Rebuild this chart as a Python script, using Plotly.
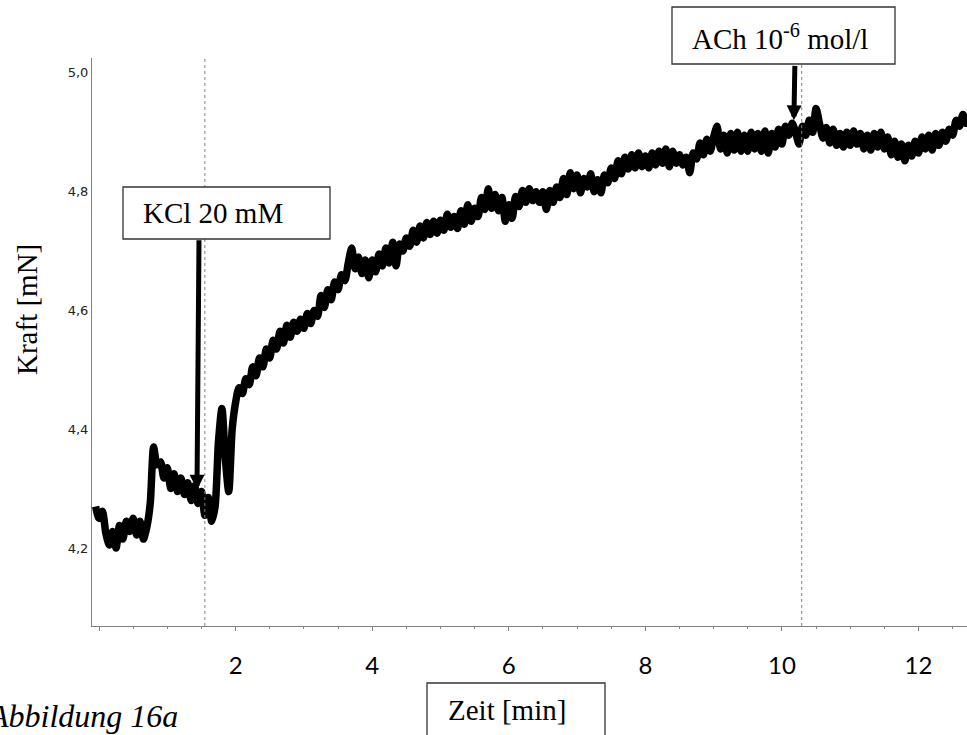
import plotly.graph_objects as go

# ---------------- data ----------------
# force trace sampled every 0.05 min, starting at t = -0.05 min
force_mN = [
    4.270, 4.250, 4.262, 4.225, 4.205, 4.228, 4.200, 4.238, 4.215, 4.245,
    4.228, 4.250, 4.222, 4.245, 4.215, 4.235, 4.275, 4.370, 4.340, 4.345,
    4.318, 4.335, 4.300, 4.325, 4.295, 4.318, 4.290, 4.310, 4.280, 4.305,
    4.275, 4.295, 4.255, 4.285, 4.245, 4.270, 4.380, 4.435, 4.350, 4.295,
    4.400, 4.445, 4.470, 4.460, 4.485, 4.475, 4.505, 4.490, 4.520, 4.505,
    4.535, 4.520, 4.550, 4.535, 4.565, 4.545, 4.575, 4.555, 4.580, 4.565,
    4.585, 4.570, 4.595, 4.578, 4.600, 4.590, 4.625, 4.605, 4.635, 4.618,
    4.648, 4.635, 4.660, 4.650, 4.680, 4.705, 4.670, 4.690, 4.662, 4.685,
    4.655, 4.685, 4.665, 4.695, 4.675, 4.705, 4.680, 4.715, 4.675, 4.712,
    4.700, 4.722, 4.708, 4.735, 4.715, 4.742, 4.722, 4.748, 4.728, 4.750,
    4.730, 4.752, 4.735, 4.762, 4.740, 4.758, 4.738, 4.768, 4.745, 4.778,
    4.750, 4.772, 4.758, 4.790, 4.770, 4.805, 4.772, 4.795, 4.768, 4.790,
    4.750, 4.778, 4.755, 4.792, 4.775, 4.802, 4.782, 4.805, 4.785, 4.800,
    4.782, 4.800, 4.770, 4.802, 4.782, 4.808, 4.790, 4.822, 4.795, 4.832,
    4.805, 4.828, 4.798, 4.822, 4.808, 4.830, 4.800, 4.820, 4.798, 4.828,
    4.815, 4.840, 4.822, 4.852, 4.830, 4.858, 4.838, 4.862, 4.840, 4.865,
    4.842, 4.860, 4.840, 4.865, 4.845, 4.868, 4.848, 4.872, 4.842, 4.868,
    4.848, 4.862, 4.845, 4.858, 4.832, 4.865, 4.855, 4.882, 4.862, 4.888,
    4.868, 4.892, 4.910, 4.872, 4.895, 4.865, 4.898, 4.870, 4.900, 4.868,
    4.895, 4.868, 4.900, 4.872, 4.898, 4.868, 4.902, 4.865, 4.898, 4.875,
    4.905, 4.880, 4.910, 4.895, 4.915, 4.900, 4.880, 4.910, 4.895, 4.920,
    4.900, 4.940, 4.915, 4.890, 4.908, 4.882, 4.905, 4.878, 4.898, 4.875,
    4.900, 4.878, 4.902, 4.880, 4.898, 4.872, 4.895, 4.870, 4.898, 4.875,
    4.900, 4.872, 4.892, 4.862, 4.885, 4.858, 4.880, 4.852, 4.878, 4.860,
    4.885, 4.865, 4.892, 4.872, 4.895, 4.870, 4.898, 4.878, 4.900, 4.885,
    4.905, 4.895, 4.920, 4.910, 4.930, 4.915, 4.928,
]
t_start_min = -0.05
t_step_min = 0.05
time_min = [round(t_start_min + t_step_min * i, 2) for i in range(len(force_mN))]

x_tick_vals = [0, 2, 4, 6, 8, 10, 12]
x_tick_text = ["", "2", "4", "6", "8", "10", "12"]
y_tick_vals = [4.2, 4.4, 4.6, 4.8, 5.0]

event_labels = ["KCl 20 mM", "ACh 10<sup>-6</sup> mol/l"]
event_line_times = [1.55, 10.29]
arrow_tip_times = [1.435, 10.175]
arrow_tip_values = [4.298, 4.920]

x_title = "Zeit [min]"
y_title = "Kraft [mN]"
caption = "Abbildung 16a"

# ---------------- layout helpers ----------------
W, H = 967, 735
L, R, T, B = 92, 0, 58, 109


def px(xp):
    return (xp - L) / (W - L - R)


def py(yp):
    return (H - B - yp) / (H - B - T)


SERIF = "Liberation Serif, Times New Roman, serif"

fig = go.Figure(
    go.Scatter(
        x=time_min, y=force_mN, mode="lines",
        line=dict(color="black", width=7.5, shape="spline", smoothing=0.7),
        hoverinfo="skip",
    )
)

fig.update_layout(
    width=W, height=H,
    margin=dict(l=L, r=R, t=T, b=B),
    paper_bgcolor="white", plot_bgcolor="white",
    showlegend=False,
    separators=",.",
)

fig.update_xaxes(
    range=[-0.1025, 12.71],
    showgrid=False, zeroline=False,
    showline=True, linecolor="#808080", linewidth=1,
    ticks="outside", ticklen=4, tickcolor="#808080", tickwidth=1,
    tickvals=x_tick_vals, ticktext=x_tick_text,
    tickfont=dict(family="Lato", size=24, color="black"),
    ticklabelstandoff=14,
    minor=dict(dtick=0.5, tick0=0, ticks="outside", ticklen=2,
               tickcolor="#808080", tickwidth=1),
)
fig.update_yaxes(
    range=[4.0687, 5.025],
    showgrid=False, zeroline=False,
    showline=True, linecolor="#808080", linewidth=1,
    ticks="", tickvals=y_tick_vals, tickformat=".1f",
    tickfont=dict(family="DejaVu Sans", size=13, color="#222222"),
)

shapes = []
for tx in event_line_times:
    shapes.append(dict(type="line", xref="x", yref="paper", x0=tx, x1=tx,
                       y0=0, y1=1, line=dict(color="#808080", width=1, dash="dot"),
                       layer="above"))

box_style = dict(type="rect", xref="paper", yref="paper",
                 line=dict(color="#333333", width=1.3), fillcolor="white",
                 layer="above")
shapes.append(dict(box_style, x0=px(123), x1=px(330), y0=py(239), y1=py(187)))
shapes.append(dict(box_style, x0=px(672), x1=px(895), y0=py(64), y1=py(7)))
shapes.append(dict(box_style, x0=px(427), x1=px(605), y0=py(745), y1=py(683)))
fig.update_layout(shapes=shapes)

annotations = []
text_font = dict(family=SERIF, size=29, color="black")
annotations.append(dict(text=event_labels[0], xref="paper", yref="paper",
                        x=px(141), y=py(213), xanchor="left", yanchor="middle",
                        showarrow=False, font=text_font))
annotations.append(dict(text=event_labels[1], xref="paper", yref="paper",
                        x=px(690), y=py(37), xanchor="left", yanchor="middle",
                        showarrow=False, font=text_font))
annotations.append(dict(text=x_title, xref="paper", yref="paper",
                        x=px(446), y=py(710), xanchor="left", yanchor="middle",
                        showarrow=False, font=text_font))
annotations.append(dict(text=y_title, xref="paper", yref="paper",
                        x=px(27), y=py(310), xanchor="center", yanchor="middle",
                        textangle=-90, showarrow=False, font=text_font))
annotations.append(dict(text="<i>" + caption + "</i>", xref="paper", yref="paper",
                        x=px(180), y=py(716), xanchor="right", yanchor="middle",
                        showarrow=False,
                        font=dict(family=SERIF, size=32, color="black")))

arrow_offsets = [(2, -251), (1, -56)]
for (tx, vy), (ax, ay) in zip(zip(arrow_tip_times, arrow_tip_values), arrow_offsets):
    annotations.append(dict(text="", x=tx, y=vy, xref="x", yref="y",
                            ax=ax, ay=ay, showarrow=True, arrowhead=2,
                            arrowsize=0.6, arrowwidth=5, arrowcolor="black",
                            standoff=0))
fig.update_layout(annotations=annotations)

fig.write_html("out.html")
